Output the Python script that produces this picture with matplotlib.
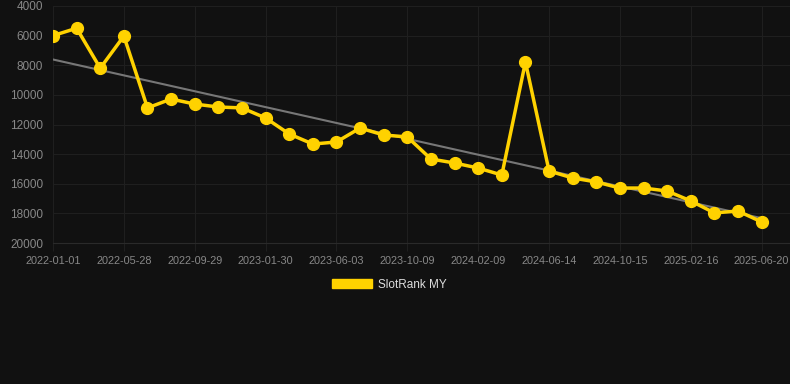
import numpy as np
import matplotlib.pyplot as plt
from matplotlib.patches import Patch

plt.rcParams['font.family'] = ['Liberation Sans', 'DejaVu Sans']

# ranks, one point per step, labels on every third point
ranks = [6000, 5500, 8200, 6030, 10880, 10280, 10620, 10820, 10880, 11560,
         12640, 13320, 13180, 12240, 12710, 12840, 14330, 14600, 14940, 15410,
         7780, 15140, 15610, 15880, 16290, 16290, 16490, 17160, 17970, 17840,
         18580]
tick_labels = ['2022-01-01', '2022-05-28', '2022-09-29', '2023-01-30', '2023-06-03',
               '2023-10-09', '2024-02-09', '2024-06-14', '2024-10-15', '2025-02-16',
               '2025-06-20']
yticks = [4000, 6000, 8000, 10000, 12000, 14000, 16000, 18000, 20000]

bg = '#111111'
gold = '#FFD200'
gridc = '#1f1f1f'

fig = plt.figure(figsize=[7.9, 3.84], dpi=100, facecolor=bg)
ax = fig.add_axes([53/790, 1-243/384, 737/790, 237/384])
ax.set_facecolor(bg)

x = np.arange(len(ranks))
y = np.array(ranks)

# trend line
k, b = np.polyfit(x, y, 1)
ax.plot(x, k*x + b, color='#777777', lw=1.5, zorder=2)

ax.plot(x, y, color=gold, lw=2.5, marker='o', ms=8.5, zorder=3)

ax.set_xlim(0, 31.2)
ax.set_ylim(20000, 4000)
ax.set_yticks(yticks)
ax.set_yticklabels([str(v) for v in yticks])
ax.set_xticks(x[::3])
ax.set_xticklabels(tick_labels)

ax.grid(True, color=gridc, lw=0.8)
ax.set_axisbelow(True)
for s in ax.spines.values():
    s.set_visible(False)
ax.spines['bottom'].set_visible(True)
ax.spines['bottom'].set_color('#2a2a2a')
ax.spines['bottom'].set_linewidth(0.8)
ax.tick_params(axis='y', colors='#888888', labelsize=8.5, length=0, pad=7)
ax.tick_params(axis='x', colors=gridc, labelcolor='#888888', labelsize=7.8,
               length=6, width=0.8, pad=3)

handle = Patch(facecolor=gold, edgecolor=gold)
fig.legend([handle], ['SlotRank MY'], loc='center', bbox_to_anchor=(389/790, 1-284.5/384),
           frameon=False, fontsize=8.5, labelcolor='#dddddd',
           handlelength=3.4, handleheight=0.9, handletextpad=0.5)

plt.savefig('out.png', dpi=100, facecolor=bg)
